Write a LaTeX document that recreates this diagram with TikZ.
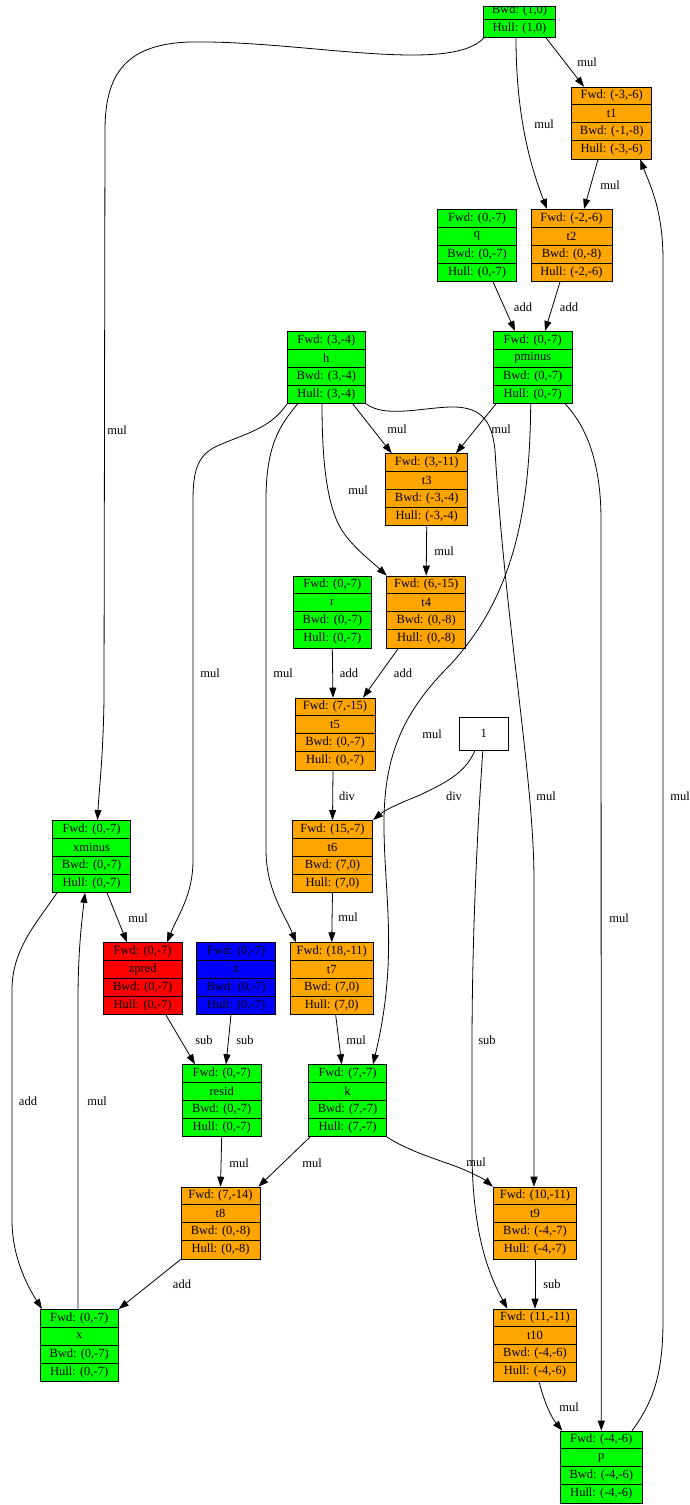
\documentclass[tikz,border=0pt]{standalone}
\usepackage{fontspec}
\setmainfont{Liberation Serif}
\usetikzlibrary{arrows.meta}
\definecolor{gvgreen}{RGB}{0,255,0}
\definecolor{gvorange}{RGB}{255,165,0}
\definecolor{gvred}{RGB}{255,0,0}
\definecolor{gvblue}{RGB}{0,0,255}
\tikzset{
  recbox/.style={draw=black, line width=0.8pt, minimum height=72pt, inner sep=0pt, anchor=north},
  recline/.style={draw=black, line width=0.8pt},
  rectxt/.style={inner sep=0pt, font=\fontsize{12.5}{14}\selectfont},
  lbl/.style={inner sep=0pt, font=\fontsize{12.5}{14}\selectfont},
  arr/.style={-{Triangle[length=10pt,width=7pt]}, line width=0.8pt},
}
\newcommand\rec[9]{%
  \node[recbox, fill=#5, minimum width=#4pt] (#1) at (#2,#3) {};
  \draw[recline] ([yshift=-18pt]#1.north west) -- ([yshift=-18pt]#1.north east);
  \draw[recline] ([yshift=-36pt]#1.north west) -- ([yshift=-36pt]#1.north east);
  \draw[recline] ([yshift=-54pt]#1.north west) -- ([yshift=-54pt]#1.north east);
  \node[rectxt] (#1-f) at ([yshift=-9pt]#1.north) {#6};
  \node[rectxt] (#1-n) at ([yshift=-27pt]#1.north) {#7};
  \node[rectxt] (#1-b) at ([yshift=-45pt]#1.north) {#8};
  \node[rectxt] (#1-h) at ([yshift=-63pt]#1.north) {#9};
}
\begin{document}
\begin{tikzpicture}[x=1pt,y=-1pt]
\useasboundingbox (0,0) rectangle (690,1505);
% top (cut) node
\node[draw=black, line width=0.8pt, fill=gvgreen, minimum width=72.4pt, minimum height=31pt, inner sep=0pt, anchor=north] (top) at (519.5,6) {};
\draw[recline] ([yshift=-13pt]top.north west) -- ([yshift=-13pt]top.north east);
\begin{scope}
  \clip (0,6.4) rectangle (690,40);
  \node[rectxt] (top-b) at (519.5,10.5) {Bwd: (1,0)};
\end{scope}
\node[rectxt] (top-h) at (519.5,28) {Hull: (1,0)};
% records
\rec{t1}{611.7}{86.7}{80}{gvorange}{Fwd: (-3,-6)}{t1}{Bwd: (-1,-8)}{Hull: (-3,-6)}
\rec{t2}{571.5}{209}{81}{gvorange}{Fwd: (-2,-6)}{t2}{Bwd: (0,-8)}{Hull: (-2,-6)}
\rec{q}{477}{209}{78.6}{gvgreen}{Fwd: (0,-7)}{q}{Bwd: (0,-7)}{Hull: (0,-7)}
\rec{h}{326.3}{331}{78.7}{gvgreen}{Fwd: (3,-4)}{h}{Bwd: (3,-4)}{Hull: (3,-4)}
\rec{pminus}{532.7}{331}{78.7}{gvgreen}{Fwd: (0,-7)}{pminus}{Bwd: (0,-7)}{Hull: (0,-7)}
\rec{t3}{426.7}{453.3}{82}{gvorange}{Fwd: (3,-11)}{t3}{Bwd: (-3,-4)}{Hull: (-3,-4)}
\rec{t4}{426.2}{575.7}{79}{gvorange}{Fwd: (6,-15)}{t4}{Bwd: (0,-8)}{Hull: (0,-8)}
\rec{r}{332.3}{575.7}{78}{gvgreen}{Fwd: (0,-7)}{r}{Bwd: (0,-7)}{Hull: (0,-7)}
\rec{t5}{335}{697.7}{80}{gvorange}{Fwd: (7,-15)}{t5}{Bwd: (0,-7)}{Hull: (0,-7)}
\node[draw=black, line width=0.8pt, fill=white, minimum width=49pt, minimum height=33pt, inner sep=0pt, font=\fontsize{12.5}{14}\selectfont] (one) at (483.8,733.8) {1};
\rec{xminus}{91.5}{820}{78.4}{gvgreen}{Fwd: (0,-7)}{xminus}{Bwd: (0,-7)}{Hull: (0,-7)}
\rec{t6}{332.5}{820}{80.4}{gvorange}{Fwd: (15,-7)}{t6}{Bwd: (7,0)}{Hull: (7,0)}
\rec{zpred}{142.7}{942.3}{78.7}{gvred}{Fwd: (0,-7)}{zpred}{Bwd: (0,-7)}{Hull: (0,-7)}
\rec{z}{236.2}{942.3}{79}{gvblue}{Fwd: (0,-7)}{z}{Bwd: (0,-7)}{Hull: (0,-7)}
\rec{t7}{331.7}{942.3}{83.3}{gvorange}{Fwd: (18,-11)}{t7}{Bwd: (7,0)}{Hull: (7,0)}
\rec{resid}{221.7}{1064.3}{78.7}{gvgreen}{Fwd: (0,-7)}{resid}{Bwd: (0,-7)}{Hull: (0,-7)}
\rec{k}{347.5}{1064.3}{78.4}{gvgreen}{Fwd: (7,-7)}{k}{Bwd: (7,-7)}{Hull: (7,-7)}
\rec{t8}{220.5}{1186.7}{79}{gvorange}{Fwd: (7,-14)}{t8}{Bwd: (0,-8)}{Hull: (0,-8)}
\rec{x}{79.2}{1309}{78.3}{gvgreen}{Fwd: (0,-7)}{x}{Bwd: (0,-7)}{Hull: (0,-7)}
\rec{t9}{535}{1186.7}{83.4}{gvorange}{Fwd: (10,-11)}{t9}{Bwd: (-4,-7)}{Hull: (-4,-7)}
\rec{t10}{535}{1308.7}{83.4}{gvorange}{Fwd: (11,-11)}{t10}{Bwd: (-4,-6)}{Hull: (-4,-6)}
\rec{p}{601.3}{1430.7}{82.7}{gvgreen}{Fwd: (-4,-6)}{p}{Bwd: (-4,-6)}{Hull: (-4,-6)}
% edges
\draw[arr] ([xshift=1pt]top.south west) .. controls (450,75) and (300,40) .. (190,42) .. controls (125,44) and (105,75) .. (105,130) -- (104,700) .. controls (103,760) and (99,790) .. ([xshift=6pt]xminus.north);
\draw[arr] ([xshift=26.5pt]top.south) -- ([xshift=-27.7pt]t1.north);
\draw[arr] ([xshift=-3.5pt]top.south) .. controls (516,120) and (532,170) .. ([xshift=-24.5pt]t2.north);
\draw[arr] ([xshift=-13.7pt]t1.south) -- ([xshift=12.5pt]t2.north);
\draw[arr] ([xshift=16pt]q.south) -- ([xshift=-17.7pt]pminus.north);
\draw[arr] ([xshift=-11.5pt]t2.south) -- ([xshift=12.3pt]pminus.north);
\draw[arr] ([xshift=26.4pt]h.south) -- ([xshift=-35pt]t3.north);
\draw[arr] ([xshift=-36.7pt]pminus.south) -- ([xshift=29.3pt]t3.north);
\draw[arr] ([xshift=-4.3pt]h.south) .. controls (322,450) and (325,500) .. (340,527) .. controls (350,545) and (370,560) .. ([xshift=0.5pt]t4.north west);
\draw[arr] (t3.south) -- (t4.north);
\draw[arr] (r.south) -- ([xshift=-2pt]t5.north);
\draw[arr] ([xshift=-28pt]t4.south) -- ([xshift=28pt]t5.north);
\draw[arr] ([xshift=-2pt]t5.south) -- (t6.north);
\draw[arr] ([xshift=-9pt]one.south) .. controls (465,775) and (440,785) .. (420,795) .. controls (400,803) and (385,810) .. (t6.north east);
\draw[arr] ([xshift=0.5pt]h.south west) .. controls (270,430) and (240,435) .. (215,447) .. controls (198,456) and (193,470) .. (193,500) -- (193,860) .. controls (193,895) and (178,915) .. ([xshift=24.3pt]zpred.north);
\draw[arr] ([xshift=-28.6pt]h.south) .. controls (280,425) and (266,445) .. (266,500) -- (266,850) .. controls (266,890) and (285,915) .. ([xshift=-35.7pt]t7.north);
\draw[arr] (h.south east) .. controls (385,418) and (420,408) .. (450,407) .. controls (485,406) and (492,425) .. (495,450) .. controls (505,620) and (534,780) .. (534,880) -- ([xshift=-1pt]t9.north);
\draw[arr] ([xshift=-2pt]pminus.south) .. controls (530,520) and (510,600) .. (450,665) .. controls (400,715) and (383,760) .. (384,830) .. controls (385,900) and (398,960) .. ([xshift=25.5pt]k.north);
\draw[arr] ([xshift=32.3pt]pminus.south) .. controls (590,430) and (601,470) .. (601,520) -- (p.north);
\draw[arr] ([xshift=15.5pt]xminus.south) -- ([xshift=-15.7pt]zpred.north);
\draw[arr] ([xshift=-34.5pt]xminus.south) .. controls (35,925) and (12,950) .. (12,990) -- (12,1220) .. controls (12,1260) and (30,1290) .. ([xshift=-37.2pt]x.north);
\draw[arr] ([xshift=-1.2pt]x.north) -- (78,1000) .. controls (78,950) and (82,920) .. ([xshift=-6.5pt]xminus.south);
\draw[arr] ([xshift=23.3pt]zpred.south) -- ([xshift=-26.7pt]resid.north);
\draw[arr] ([xshift=-5.2pt]z.south) -- ([xshift=4.3pt]resid.north);
\draw[arr] (t6.south) -- (t7.north);
\draw[arr] ([xshift=4pt]t7.south) -- ([xshift=-5.8pt]k.north);
\draw[arr] (resid.south) -- (t8.north);
\draw[arr] ([xshift=2pt]k.south west) -- ([xshift=-2pt]t8.north east);
\draw[arr] (k.south east) .. controls (410,1152) and (440,1160) .. (460,1168) .. controls (475,1174) and (485,1180) .. (t9.north west);
\draw[arr] (t8.south west) -- (x.north east);
\draw[arr] (t9.south) -- (t10.north);
\draw[arr] ([xshift=-1pt]one.south) .. controls (476,850) and (472,950) .. (472,1050) -- (472,1150) .. controls (472,1240) and (492,1280) .. ([xshift=-27.7pt]t10.north);
\draw[arr] ([xshift=4pt]t10.south) .. controls (545,1405) and (552,1418) .. ([xshift=-39pt]p.north);
\draw[arr] ([xshift=30.7pt]p.north) .. controls (655,1400) and (663,1370) .. (663,1320) -- (663,260) .. controls (663,210) and (650,185) .. ([xshift=28.5pt]t1.south);
% labels
\node[lbl] (l1) at (117,430) {mul};
\node[lbl] (l2) at (587,62) {mul};
\node[lbl] (l3) at (544,124) {mul};
\node[lbl] (l4) at (610,185) {mul};
\node[lbl] (l5) at (523,307) {add};
\node[lbl] (l6) at (569,307) {add};
\node[lbl] (l7) at (397,429) {mul};
\node[lbl] (l8) at (501,429) {mul};
\node[lbl] (l9) at (358,490) {mul};
\node[lbl] (l10) at (444,551) {mul};
\node[lbl] (l11) at (349,673) {add};
\node[lbl] (l12) at (403,673) {add};
\node[lbl] (l13) at (347,796) {div};
\node[lbl] (l14) at (454,796) {div};
\node[lbl] (l15) at (210,673) {mul};
\node[lbl] (l16) at (283,673) {mul};
\node[lbl] (l17) at (546,796) {mul};
\node[lbl] (l18) at (432,734) {mul};
\node[lbl] (l19) at (619,918) {mul};
\node[lbl] (l20) at (138,918) {mul};
\node[lbl] (l21) at (28,1101) {add};
\node[lbl] (l22) at (97,1101) {mul};
\node[lbl] (l23) at (204,1040) {sub};
\node[lbl] (l24) at (245,1040) {sub};
\node[lbl] (l25) at (348,917) {mul};
\node[lbl] (l26) at (356,1040) {mul};
\node[lbl] (l27) at (239,1163) {mul};
\node[lbl] (l28) at (312,1163) {mul};
\node[lbl] (l29) at (476,1162) {mul};
\node[lbl] (l30) at (182,1284) {add};
\node[lbl] (l31) at (552,1284) {sub};
\node[lbl] (l32) at (487,1040) {sub};
\node[lbl] (l33) at (569,1407) {mul};
\node[lbl] (l34) at (680,796) {mul};
\end{tikzpicture}
\end{document}
